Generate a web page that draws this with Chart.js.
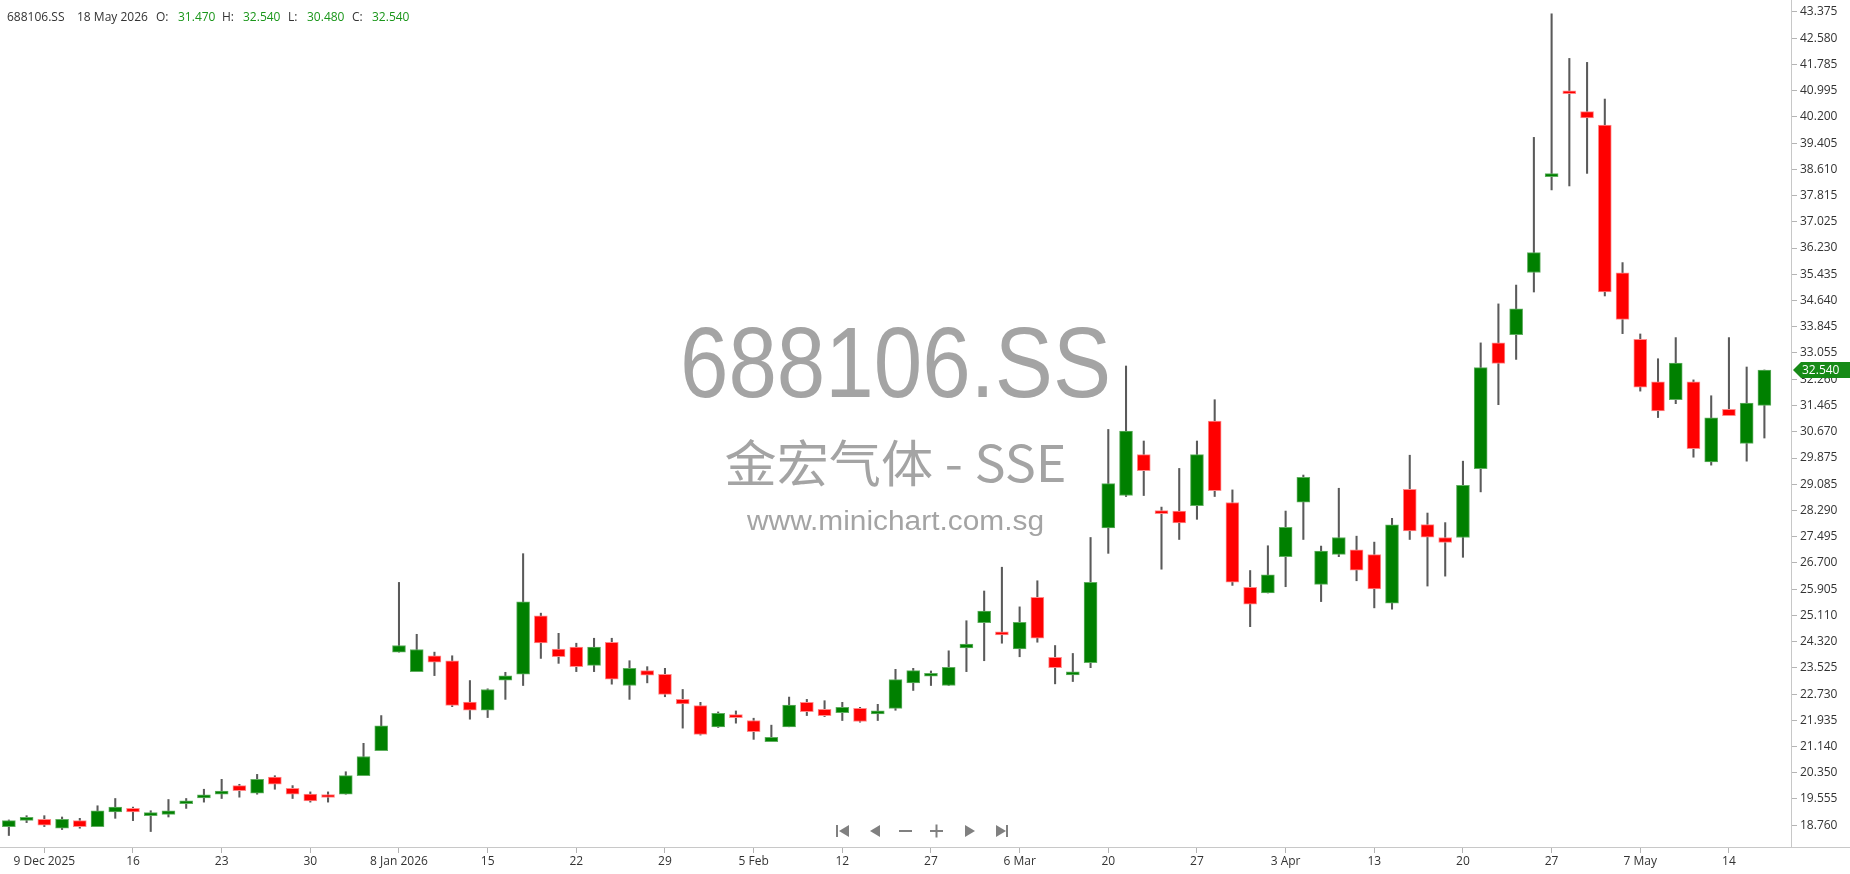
<!DOCTYPE html>
<html>
<head>
<meta charset="utf-8">
<script src="https://cdn.jsdelivr.net/npm/chart.js@4.4.1/dist/chart.umd.min.js"></script>
<style>
  html, body { margin: 0; padding: 0; background: #fff; overflow: hidden; }
  #wrap { position: relative; width: 1850px; height: 874px; }
</style>
</head>
<body>
<div id="wrap"><canvas id="chart" width="1850" height="874"></canvas></div>
<script>
// 688106.SS daily candles, 5 Dec 2025 .. 18 May 2026
const symbol = '688106.SS';
const nameLine = '金宏气体 - SSE';
const siteLine = 'www.minichart.com.sg';
const lastDate = '18 May 2026';

const openP = [18.72, 18.91, 18.94, 18.67, 18.90, 18.72, 19.16, 19.27, 19.05, 19.09,
  19.41, 19.59, 19.70, 19.96, 19.73, 20.22, 19.88, 19.70, 19.62, 19.70,
  20.26, 21.02, 24.00, 23.41, 23.89, 23.74, 22.49, 22.24, 23.15, 23.33,
  25.10, 24.09, 24.15, 23.60, 24.30, 22.99, 23.44, 23.33, 22.57, 22.38,
  21.74, 22.04, 21.93, 21.29, 21.74, 22.48, 22.27, 22.17, 22.30, 22.13,
  22.30, 23.07, 23.27, 22.99, 24.13, 24.89, 24.60, 24.10, 25.66, 23.84,
  23.31, 23.68, 27.76, 28.74, 29.98, 28.20, 28.27, 28.43, 30.99, 28.53,
  25.96, 25.79, 26.89, 28.54, 26.05, 26.96, 27.10, 26.95, 25.48, 28.93,
  27.86, 27.47, 27.47, 29.55, 33.36, 33.61, 35.49, 38.39, 40.94, 40.36,
  39.95, 35.48, 33.47, 32.18, 31.64, 32.18, 29.76, 31.35, 30.32, 31.47];
const highP = [18.92, 19.05, 19.05, 19.01, 18.97, 19.35, 19.57, 19.31, 19.20, 19.54,
  19.57, 19.85, 20.15, 20.00, 20.30, 20.26, 19.96, 19.77, 19.77, 20.38,
  21.24, 22.08, 26.11, 24.54, 24.00, 23.89, 23.14, 22.89, 23.39, 26.98,
  25.18, 24.57, 24.27, 24.42, 24.42, 23.74, 23.56, 23.51, 22.87, 22.48,
  22.19, 22.22, 22.00, 21.79, 22.64, 22.57, 22.53, 22.48, 22.33, 22.42,
  23.48, 23.51, 23.43, 24.04, 24.95, 25.85, 26.57, 25.37, 26.16, 24.20,
  23.96, 27.47, 30.74, 32.66, 30.39, 28.39, 29.56, 30.39, 31.64, 28.91,
  26.47, 27.22, 28.27, 29.36, 27.21, 28.96, 27.51, 27.33, 28.05, 29.96,
  28.21, 27.92, 29.78, 33.36, 34.54, 35.11, 39.58, 43.32, 41.97, 41.85,
  40.74, 35.79, 33.63, 32.88, 33.52, 32.24, 31.76, 33.52, 32.63, 32.54];
const lowP = [18.45, 18.84, 18.72, 18.63, 18.67, 18.72, 18.97, 18.90, 18.57, 19.01,
  19.27, 19.46, 19.57, 19.61, 19.70, 19.85, 19.57, 19.46, 19.46, 19.70,
  20.26, 21.02, 24.00, 23.41, 23.29, 22.35, 21.97, 22.02, 22.57, 22.99,
  23.81, 23.66, 23.41, 23.41, 23.03, 22.57, 23.07, 22.65, 21.70, 21.49,
  21.72, 21.85, 21.36, 21.29, 21.74, 22.08, 22.05, 21.93, 21.88, 21.93,
  22.24, 22.84, 22.99, 22.99, 23.41, 23.74, 24.27, 23.86, 24.30, 23.04,
  23.11, 23.53, 26.99, 28.71, 28.74, 26.51, 27.41, 28.02, 28.71, 26.02,
  24.77, 25.79, 25.98, 27.41, 25.53, 26.89, 26.16, 25.34, 25.30, 27.41,
  26.00, 26.30, 26.87, 28.85, 31.49, 32.86, 34.90, 37.99, 38.11, 38.49,
  34.78, 33.64, 31.90, 31.10, 31.52, 29.90, 29.66, 31.16, 29.78, 30.48];
const closeP = [18.90, 18.95, 18.76, 18.94, 18.72, 19.20, 19.31, 19.16, 19.12, 19.20,
  19.43, 19.62, 19.77, 19.81, 20.15, 20.00, 19.70, 19.50, 19.60, 20.26,
  20.84, 21.77, 24.20, 24.08, 23.70, 22.39, 22.24, 22.87, 23.28, 25.52,
  24.28, 23.86, 23.56, 24.15, 23.18, 23.51, 23.30, 22.72, 22.43, 21.51,
  22.15, 22.02, 21.59, 21.42, 22.40, 22.20, 22.08, 22.33, 21.90, 22.22,
  23.17, 23.44, 23.30, 23.54, 24.24, 25.24, 24.52, 24.90, 24.42, 23.53,
  23.34, 26.11, 29.10, 30.69, 29.49, 28.19, 27.91, 29.98, 28.89, 26.12,
  25.45, 26.34, 27.78, 29.29, 27.06, 27.47, 26.48, 25.91, 27.85, 27.67,
  27.48, 27.32, 29.05, 32.61, 32.74, 34.39, 36.09, 38.42, 40.90, 40.17,
  34.90, 34.07, 32.02, 31.30, 32.75, 30.16, 31.09, 31.16, 31.54, 32.54];

// x axis: a date label every 5th session, starting at the 3rd candle
const xTickLabels = ['9 Dec 2025', '16', '23', '30', '8 Jan 2026', '15', '22', '29', '5 Feb', '12',
  '27', '6 Mar', '20', '27', '3 Apr', '13', '20', '27', '7 May', '14'];
const yTickLabels = ['18.760', '19.555', '20.350', '21.140', '21.935', '22.730', '23.525', '24.320',
  '25.110', '25.905', '26.700', '27.495', '28.290', '29.085', '29.875', '30.670', '31.465', '32.260',
  '33.055', '33.845', '34.640', '35.435', '36.230', '37.025', '37.815', '38.610', '39.405', '40.200',
  '40.995', '41.785', '42.580', '43.375'];

const GREEN = '#008000';
const RED = '#ff0000';

// one spare slot on the right, like the original
const labels = [];
for (let i = 0; i <= openP.length; i++) {
  const k = (i - 2) / 5;
  labels.push(Number.isInteger(k) && k >= 0 && k < xTickLabels.length ? xTickLabels[k] : '');
}

const up = openP.map((o, i) => closeP[i] >= o);
const bodies = openP.map((o, i) => [o, closeP[i]]);
const wicks = lowP.map((l, i) => [l, highP[i]]);

function fitText(ctx, text, font, cx, baseline, width) {
  ctx.save();
  ctx.font = font;
  const w = ctx.measureText(text).width;
  ctx.translate(cx, baseline);
  ctx.scale(width / w, 1);
  ctx.textAlign = 'center';
  ctx.textBaseline = 'alphabetic';
  ctx.fillText(text, 0, 0);
  ctx.restore();
}

const watermark = {
  id: 'watermark',
  beforeDatasetsDraw(chart) {
    const ctx = chart.ctx;
    const cx = (chart.chartArea.left + chart.chartArea.right) / 2;
    ctx.fillStyle = '#a4a4a4';
    fitText(ctx, symbol, '100px "Liberation Sans"', cx, 397, 431);
    fitText(ctx, nameLine, '50px "Noto Sans CJK SC"', cx, 482, 342);
    fitText(ctx, siteLine, '27px "Liberation Sans"', cx, 530, 297);
  }
};

const extras = {
  id: 'extras',
  afterDraw(chart) {
    const ctx = chart.ctx;
    const area = chart.chartArea;
    const n = closeP.length - 1;

    // header line
    ctx.save();
    ctx.font = '12px "Open Sans"';
    ctx.textBaseline = 'middle';
    const head = [
      [symbol, 7, '#333'], [lastDate, 77, '#333'],
      ['O:', 156, '#333'], [openP[n].toFixed(3), 178, '#1a961a'],
      ['H:', 222, '#333'], [highP[n].toFixed(3), 243, '#1a961a'],
      ['L:', 288, '#333'], [lowP[n].toFixed(3), 307, '#1a961a'],
      ['C:', 352, '#333'], [closeP[n].toFixed(3), 372, '#1a961a']
    ];
    head.forEach(([t, x, c]) => { ctx.fillStyle = c; ctx.fillText(t, x, 18); });

    // bottom line runs under the price axis too
    ctx.strokeStyle = '#c8c8c8';
    ctx.lineWidth = 1;
    ctx.beginPath();
    ctx.moveTo(area.right, area.bottom + 0.5);
    ctx.lineTo(chart.width, area.bottom + 0.5);
    ctx.stroke();

    // last price flag
    const y = chart.scales.y.getPixelForValue(closeP[n]);
    const x0 = area.right + 2;
    ctx.fillStyle = '#178a17';
    ctx.beginPath();
    ctx.moveTo(x0, y);
    ctx.lineTo(x0 + 8, y - 8);
    ctx.lineTo(chart.width, y - 8);
    ctx.lineTo(chart.width, y + 8);
    ctx.lineTo(x0 + 8, y + 8);
    ctx.closePath();
    ctx.fill();
    ctx.fillStyle = '#fff';
    ctx.font = '12px "Open Sans"';
    ctx.textBaseline = 'middle';
    ctx.fillText(closeP[n].toFixed(3), x0 + 9, y + 1);

    // navigation buttons
    ctx.fillStyle = '#808080';
    const cy = 831;
    const tri = (x, dir) => {
      ctx.beginPath();
      ctx.moveTo(x, cy - 6);
      ctx.lineTo(x + 10 * dir, cy);
      ctx.lineTo(x, cy + 6);
      ctx.closePath();
      ctx.fill();
    };
    ctx.fillRect(836, cy - 6, 2, 12); tri(849, -1);
    tri(880, -1);
    ctx.fillRect(899, cy - 1, 13, 2);
    ctx.fillRect(930, cy - 1, 13, 2); ctx.fillRect(935.5, cy - 6.5, 2, 13);
    tri(965, 1);
    tri(996, 1); ctx.fillRect(1006, cy - 6, 2, 12);
    ctx.restore();
  }
};

const tickFont = { family: 'Open Sans', size: 12 };

new Chart(document.getElementById('chart'), {
  type: 'bar',
  data: {
    labels: labels,
    datasets: [
      {
        label: 'wick',
        data: wicks,
        backgroundColor: '#5a5a5a',
        barThickness: 1.4,
        grouped: false,
        order: 2
      },
      {
        label: 'body',
        data: bodies,
        backgroundColor: up.map(u => (u ? GREEN : RED)),
        borderColor: up.map(u => (u ? '#5fae5f' : '#ff8a8a')),
        borderWidth: 1,
        borderSkipped: false,
        barThickness: 13,
        minBarLength: 3,
        grouped: false,
        order: 1
      }
    ]
  },
  options: {
    responsive: false,
    animation: false,
    devicePixelRatio: 1,
    layout: { padding: 0 },
    plugins: { legend: { display: false }, tooltip: { enabled: false } },
    scales: {
      x: {
        offset: true,
        grid: { offset: false, drawOnChartArea: false, drawTicks: true, tickLength: 6, color: '#b4b4b4' },
        border: { display: true, color: '#c8c8c8' },
        ticks: {
          autoSkip: false, maxRotation: 0, minRotation: 0, color: '#333', font: tickFont, padding: 1,
          callback: v => labels[v]
        },
        afterBuildTicks: s => { s.ticks = s.ticks.filter(t => labels[t.value] !== ''); },
        afterFit: s => { s.height = 27; s.paddingLeft = 0; s.paddingRight = 0; }
      },
      y: {
        position: 'right',
        min: 18.102,
        max: 43.738,
        grid: { drawOnChartArea: false, drawTicks: true, tickLength: 6, color: '#b4b4b4' },
        border: { display: true, color: '#c8c8c8' },
        ticks: { color: '#333', font: tickFont, padding: 3, callback: (v, i) => yTickLabels[i] },
        afterBuildTicks: s => { s.ticks = yTickLabels.map(t => ({ value: parseFloat(t) })); },
        afterFit: s => { s.width = 59; s.paddingTop = 0; s.paddingBottom = 0; }
      }
    }
  },
  plugins: [watermark, extras]
});
</script>
</body>
</html>
